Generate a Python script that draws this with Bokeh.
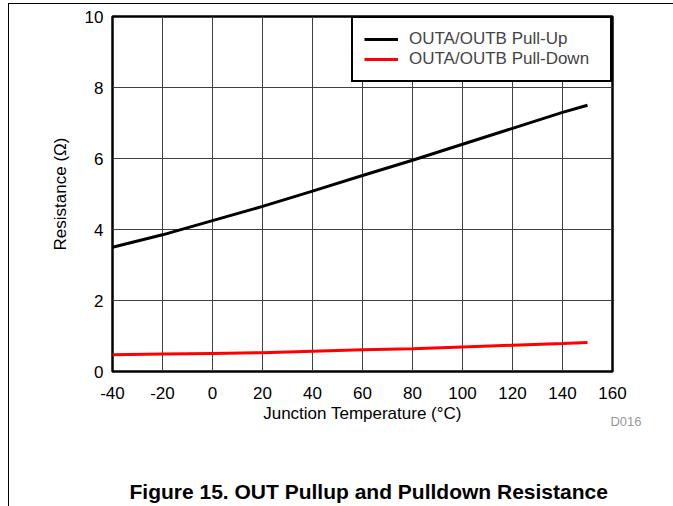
from bokeh.plotting import figure
from bokeh.models import Range1d, FixedTicker, Legend, LegendItem, Title
from bokeh.embed import file_html
from bokeh.resources import INLINE

# Data
temp = [-40, -20, 0, 20, 40, 60, 80, 100, 120, 140, 150]
pull_up = [3.5, 3.85, 4.25, 4.65, 5.08, 5.52, 5.95, 6.4, 6.85, 7.3, 7.5]
pull_down = [0.47, 0.49, 0.51, 0.53, 0.57, 0.61, 0.64, 0.69, 0.74, 0.79, 0.82]
x_ticks = [-40, -20, 0, 20, 40, 60, 80, 100, 120, 140, 160]
y_ticks = [0, 2, 4, 6, 8, 10]

FONT = "Liberation Sans"

p = figure(width=665, height=503, output_backend="svg", toolbar_location=None,
           x_range=Range1d(-40, 160), y_range=Range1d(0, 10),
           min_border_left=103, min_border_right=62, min_border_top=12,
           min_border_bottom=136, margin=(3, 0, 0, 8),
           styles={"border-top": "1px solid black", "border-left": "1px solid black"})

p.outline_line_color = "black"
p.outline_line_width = 2.5

for ax in (p.xaxis[0], p.yaxis[0]):
    ax.axis_line_color = None
    ax.major_tick_out = 0
    ax.major_tick_in = 0
    ax.minor_tick_line_color = None
    ax.major_label_text_font = FONT
    ax.major_label_text_font_size = "17px"
    ax.major_label_text_color = "black"
    ax.axis_label_text_font = FONT
    ax.axis_label_text_font_size = "17px"
    ax.axis_label_text_font_style = "normal"
    ax.axis_label_text_color = "black"

p.xaxis.ticker = FixedTicker(ticks=x_ticks)
p.yaxis.ticker = FixedTicker(ticks=y_ticks)
p.xaxis.major_label_overrides = {t: str(t) for t in x_ticks if t < 0}
p.xaxis.major_label_standoff = 15
p.yaxis.major_label_standoff = 9
p.xaxis.axis_label = "Junction Temperature (°C)"
p.yaxis.axis_label = "Resistance (Ω)"
p.xaxis.axis_label_standoff = 2
p.yaxis.axis_label_standoff = 12

p.xgrid.ticker = FixedTicker(ticks=x_ticks)
p.ygrid.ticker = FixedTicker(ticks=y_ticks)
for g in (p.xgrid[0], p.ygrid[0]):
    g.grid_line_color = "#404040"
    g.grid_line_width = 1

r1 = p.line(temp, pull_up, line_color="black", line_width=3)
r2 = p.line(temp, pull_down, line_color="#ff0000", line_width=3)

legend = Legend(items=[LegendItem(label="OUTA/OUTB Pull-Up", renderers=[r1]),
                       LegendItem(label="OUTA/OUTB Pull-Down", renderers=[r2])],
                location="top_right")
legend.margin = 0
legend.padding = 11
legend.spacing = 0
legend.label_height = 20
legend.glyph_height = 20
legend.glyph_width = 34
legend.label_standoff = 11
legend.label_width = 190
legend.label_text_font = FONT
legend.label_text_font_size = "17px"
legend.border_line_color = "black"
legend.border_line_width = 2
legend.border_line_alpha = 1
legend.background_fill_color = "white"
legend.background_fill_alpha = 1
p.add_layout(legend, "center")

# Side texts (stacked below the x axis)
p.add_layout(Title(text="D016", align="right", offset=-29, standoff=-24,
                   vertical_align="top",
                   text_font=FONT, text_font_size="13px", text_font_style="normal",
                   text_color="#999999"), "below")
p.add_layout(Title(text=" ", standoff=35, text_font=FONT, text_font_size="10px"), "below")
p.add_layout(Title(text="Figure 15. OUT Pullup and Pulldown Resistance", align="left",
                   offset=17, standoff=8, vertical_align="bottom",
                   text_font=FONT, text_font_size="21px",
                   text_font_style="bold", text_color="black"), "below")

open("out.html", "w").write(file_html(p, INLINE))
